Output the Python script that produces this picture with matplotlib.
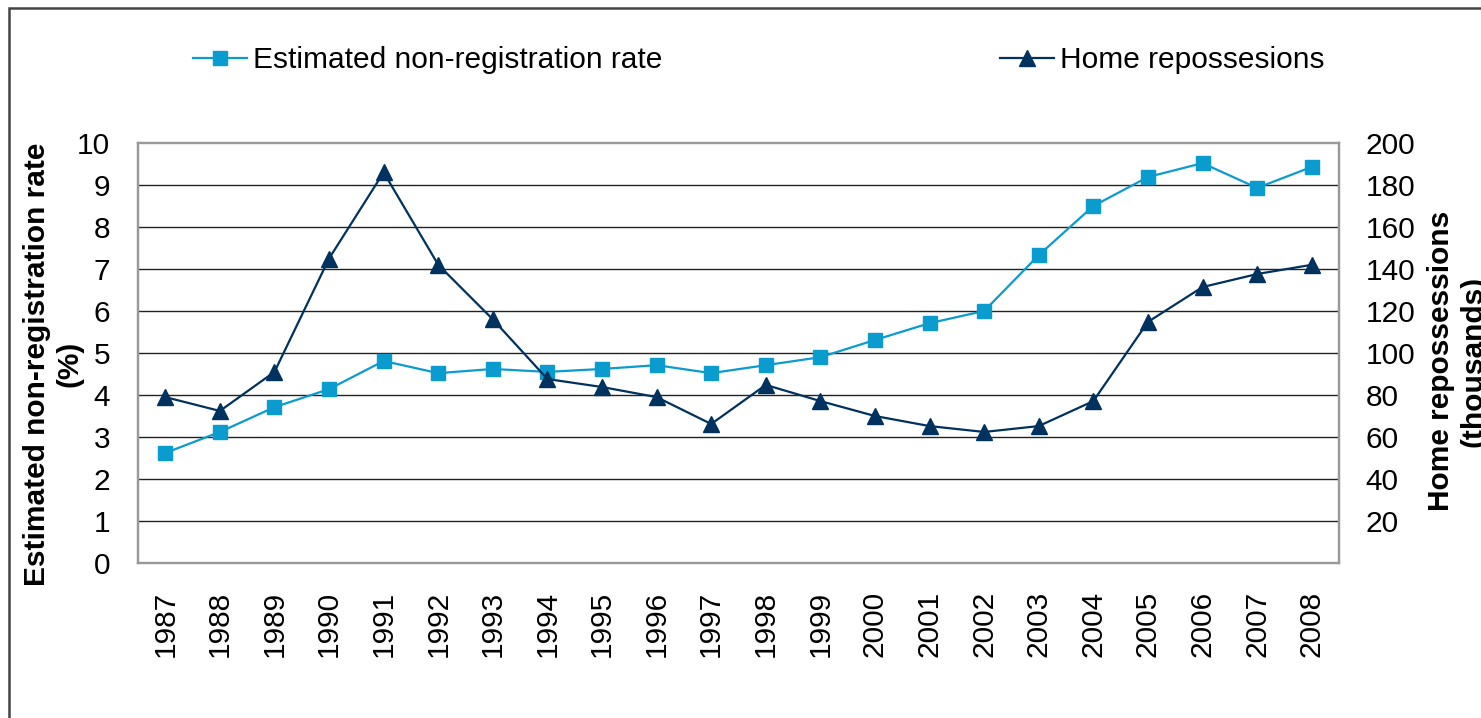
import matplotlib
matplotlib.use("Agg")
import matplotlib.pyplot as plt
from matplotlib.patches import Rectangle

plt.rcParams['font.family'] = ['Liberation Sans', 'DejaVu Sans']

years = [str(y) for y in range(1987, 2009)]
non_registration = [2.62, 3.12, 3.71, 4.14, 4.81, 4.52, 4.62, 4.55, 4.62, 4.71, 4.52,
                    4.71, 4.90, 5.31, 5.71, 6.00, 7.33, 8.50, 9.19, 9.52, 8.93, 9.43]
repossessions = [79, 72.4, 91, 145, 186, 142, 116, 87.6, 83.8, 79, 66.2,
                 84.8, 77.1, 70, 65.2, 62.4, 65.2, 77.1, 114.8, 131.4, 137.6, 142]
left_ticks = list(range(0, 11))
right_ticks = list(range(20, 201, 20))

W, H = 1481, 718
fig = plt.figure(figsize=(W / 100, H / 100), dpi=100)
ax = fig.add_axes([138 / W, 1 - 563 / H, (1339 - 138) / W, (563 - 143) / H])
ax2 = ax.twinx()

FS = 21.5
light = '#0A9BCF'
dark = '#00325F'

x = list(range(len(years)))
ax.set_xlim(-0.5, len(years) - 0.5)
ax.set_ylim(0, 10)
ax2.set_ylim(0, 200)

for v in left_ticks[1:-1]:
    ax.axhline(v, color='#222222', lw=1.0, zorder=1)

l1, = ax.plot(x, non_registration, color=light, lw=1.6, marker='s', markersize=9.5,
              markeredgecolor=light, zorder=3)
l2, = ax2.plot(x, repossessions, color=dark, lw=1.6, marker='^', markersize=11,
               markeredgecolor=dark, zorder=3)
ax.set_zorder(ax2.get_zorder() - 1)
ax.patch.set_visible(True)
ax2.patch.set_visible(False)

ax.set_xticks(x)
ax.set_xticklabels(years, rotation=90, fontsize=FS)
ax.set_yticks(left_ticks)
ax.set_yticklabels([str(t) for t in left_ticks], fontsize=FS)
ax2.set_yticks(right_ticks)
ax2.set_yticklabels([str(t) for t in right_ticks], fontsize=FS)

ax.tick_params(axis='x', length=0, pad=20)
ax.tick_params(axis='y', length=0, pad=20)
ax2.tick_params(axis='y', length=0, pad=19)

for a in (ax, ax2):
    for s in a.spines.values():
        s.set_color('#999999')
        s.set_linewidth(1.6)

fig.text(53 / W, 1 - 364 / H, 'Estimated non-registration rate\n(%)', rotation=90,
         ha='center', va='center', multialignment='center', fontsize=FS,
         fontweight='bold')
fig.text(1457 / W, 1 - 361 / H, 'Home repossessions\n(thousands)', rotation=90,
         ha='center', va='center', multialignment='center', fontsize=FS,
         fontweight='bold')

legend_kw = dict(loc='center left', bbox_transform=fig.transFigure, frameon=False,
                 borderaxespad=0, borderpad=0, handlelength=1.8, handletextpad=0.2,
                 fontsize=FS)
fig.legend([l1], ['Estimated non-registration rate'],
           bbox_to_anchor=(193 / W, 1 - 60 / H), **legend_kw)
fig.legend([l2], ['Home repossesions'],
           bbox_to_anchor=(1000 / W, 1 - 60 / H), **legend_kw)

fig.add_artist(Rectangle((9 / W, -0.1), 1.2, 1.1 - 8 / H, transform=fig.transFigure,
                         fill=False, edgecolor='#444444', lw=1.8))

fig.savefig('out.png', dpi=100)
